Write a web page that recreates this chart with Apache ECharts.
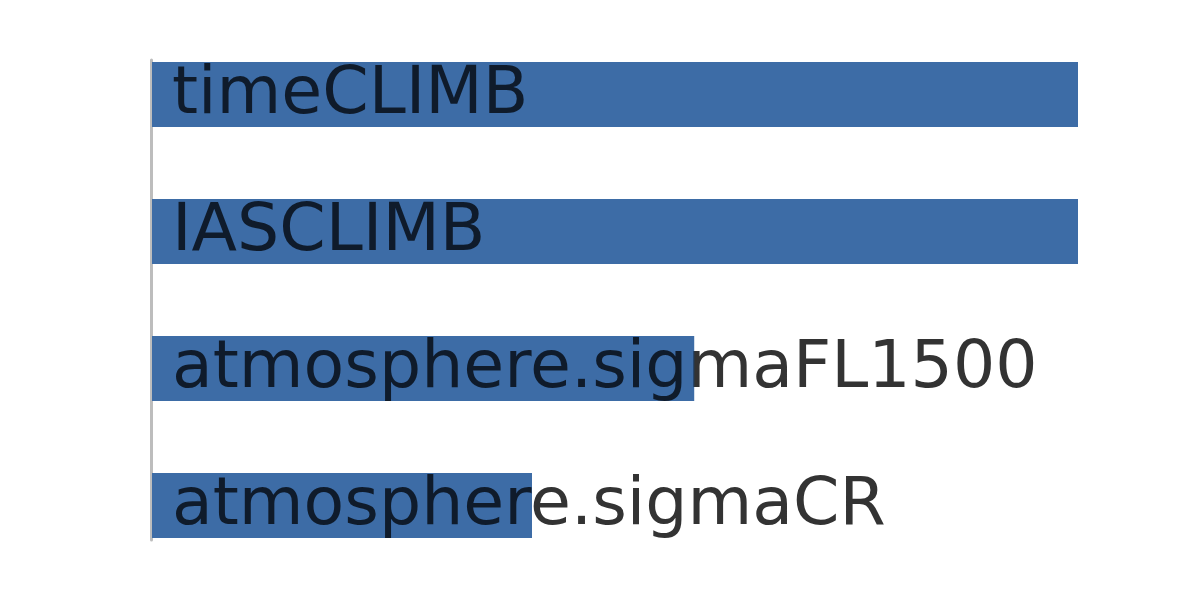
<!DOCTYPE html>
<html>
<head>
<meta charset="utf-8">
<script src="https://cdn.jsdelivr.net/npm/echarts@6/dist/echarts.min.js"></script>
<style>html,body{margin:0;padding:0;background:#fff}#c{width:1200px;height:600px}</style>
</head>
<body>
<div id="c"></div>
<script>
const categories = ['timeCLIMB', 'IASCLIMB', 'atmosphere.sigmaFL1500', 'atmosphere.sigmaCR'];
const values = [1.0, 1.0, 0.586, 0.411];

const FONT = 66.5;
const LABEL_MARGIN = 21;
const TEXT_SHIFT = 1;

const chart = echarts.init(document.getElementById('c'), null, {renderer: 'canvas'});
chart.setOption({
  animation: false,
  backgroundColor: '#ffffff',
  grid: [
    {left: 151, right: 122, top: 94.5, bottom: 94.5, containLabel: false},
    {left: 151.5, right: 122, top: 60, bottom: 60, containLabel: false}
  ],
  xAxis: [
    {gridIndex: 0, type: 'value', min: 0, max: 1, show: false},
    {gridIndex: 1, type: 'value', min: 0, max: 1, show: false}
  ],
  yAxis: [
    {
      gridIndex: 0, type: 'category', data: categories, inverse: true, boundaryGap: false,
      axisLine: {show: false}, axisTick: {show: false}, splitLine: {show: false},
      axisLabel: {show: false}
    },
    {
      gridIndex: 1, type: 'value', min: 0, max: 1,
      axisLine: {show: true, lineStyle: {color: '#bdbdbd', width: 3}},
      axisTick: {show: false}, axisLabel: {show: false}, splitLine: {show: false}
    }
  ],
  series: [{
    type: 'custom',
    xAxisIndex: 0, yAxisIndex: 0,
    silent: true,
    clip: false,
    z: 2,
    data: values.map((v, i) => [v, i]),
    encode: {x: 0, y: 1},
    renderItem: function (params, api) {
      const idx = api.value(1);
      const p0 = api.coord([0, idx]);
      const p1 = api.coord([api.value(0), idx]);
      const band = api.size([0, 1])[1];
      const h = band * 0.475;
      const rect = {x: p0[0] + 1, y: p0[1] - h / 2, width: p1[0] - p0[0] - 1, height: h};
      const textStyle = function (color) {
        return {
          text: categories[idx],
          x: p0[0] + LABEL_MARGIN, y: p0[1] + TEXT_SHIFT,
          fill: color,
          fontSize: FONT, fontFamily: 'DejaVu Sans',
          align: 'left', verticalAlign: 'middle'
        };
      };
      return {
        type: 'group',
        children: [
          {type: 'text', style: textStyle('#333333')},
          {type: 'rect', shape: rect, style: {fill: '#3d6ca6'}},
          {
            type: 'group',
            clipPath: {type: 'rect', shape: rect},
            children: [{type: 'text', style: textStyle('#0f1b2b')}]
          }
        ]
      };
    }
  }]
});
</script>
</body>
</html>
